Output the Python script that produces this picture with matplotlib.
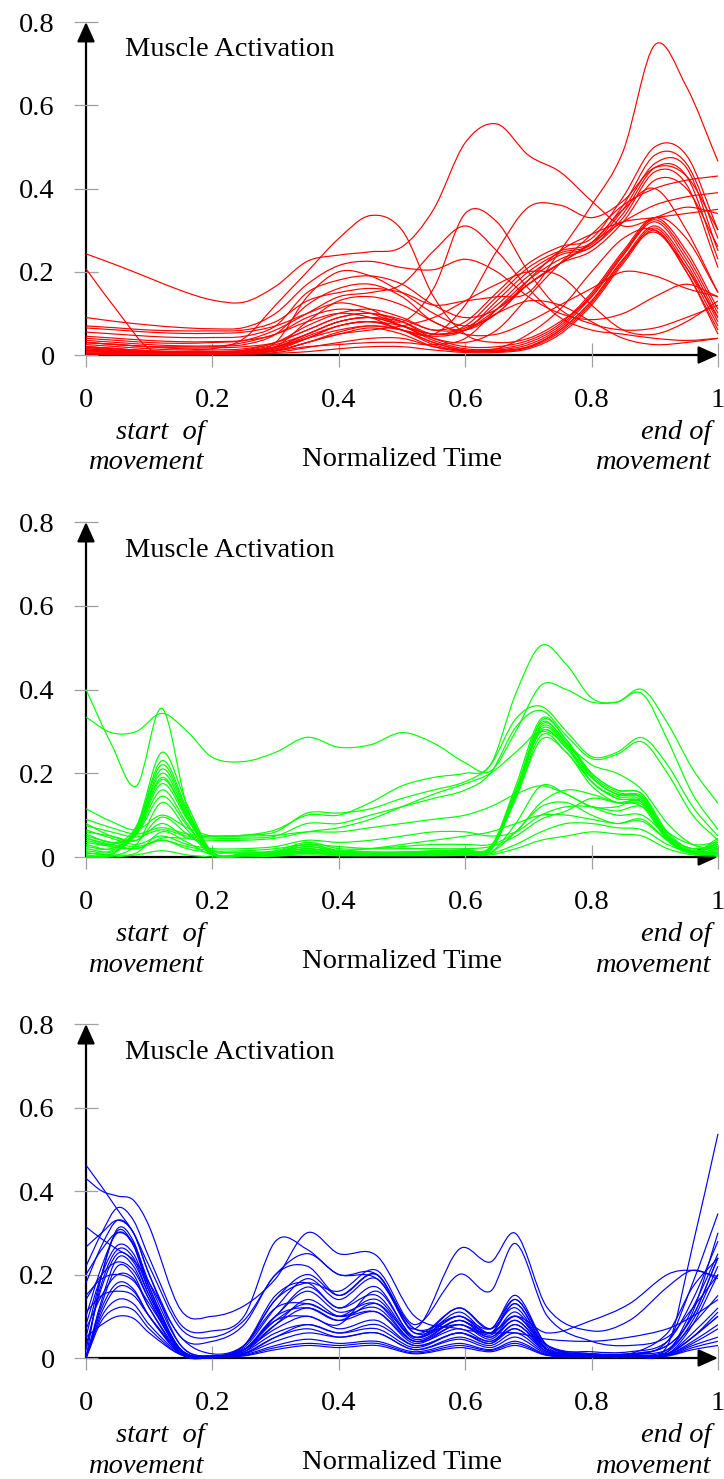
import numpy as np
import matplotlib
matplotlib.use('Agg')
import matplotlib.pyplot as plt
from matplotlib.path import Path
from matplotlib.patches import PathPatch

# =====================================
# DATA - activation curves
# =====================================
t_red = [0, .05, .1, .15, .2, .25, .3, .35, .4, .45, .5, .55, .6, .65, .7, .75, .8, .85, .9, .95, 1]

red_curves = [
    [.243, .215, .185, .155, .132, .127, .165, .225, .24, .248, .26, .35, .51, .555, .48, .44, .37, .31, .33, .355, .34],
    [.207, .105, .015, .005, .004, .005, .015, .045, .07, .08, .06, .025, .01, .015, .05, .11, .2, .28, .3, .21, .09],
    [.03, .025, .02, .015, .015, .04, .12, .2, .28, .335, .3, .14, .05, .03, .04, .08, .14, .24, .33, .28, .15],
    [.09, .08, .072, .066, .063, .066, .1, .17, .215, .225, .21, .205, .23, .2, .14, .1, .085, .1, .14, .17, .14],
    [.065, .06, .055, .052, .052, .055, .07, .1, .125, .11, .08, .16, .34, .32, .2, .11, .075, .06, .065, .09, .12],
    [.04, .035, .03, .028, .03, .035, .06, .1, .14, .15, .17, .25, .31, .25, .16, .09, .06, .05, .04, .035, .04],
    [.03, .025, .02, .02, .02, .03, .05, .08, .1, .09, .06, .05, .12, .25, .355, .36, .33, .37, .45, .43, .3],
    [.07, .065, .06, .058, .058, .06, .08, .13, .15, .16, .15, .12, .13, .14, .15, .25, .36, .49, .745, .645, .465],
    [.02, .015, .01, .008, .008, .01, .02, .05, .08, .09, .07, .04, .03, .06, .14, .22, .29, .36, .4, .42, .43],
    [.055, .05, .045, .042, .042, .045, .07, .15, .18, .19, .17, .12, .09, .11, .17, .22, .27, .32, .36, .38, .39],
    [.025, .02, .015, .012, .012, .015, .03, .07, .1, .11, .09, .06, .08, .15, .22, .26, .28, .38, .5, .48, .3],
    [.015, .01, .008, .006, .006, .01, .025, .05, .08, .09, .08, .05, .07, .14, .21, .25, .27, .36, .48, .46, .28],
    [.01, .008, .005, .004, .004, .008, .02, .04, .06, .07, .06, .045, .06, .13, .2, .245, .265, .35, .46, .45, .25],
    [.02, .015, .01, .008, .008, .012, .03, .06, .09, .1, .085, .06, .065, .12, .19, .24, .26, .34, .45, .43, .23],
    [.005, .004, .003, .003, .003, .005, .01, .02, .025, .03, .03, .025, .04, .11, .18, .23, .26, .33, .44, .41, .21],
    [.035, .03, .025, .022, .022, .025, .05, .12, .16, .17, .14, .08, .06, .1, .17, .22, .25, .32, .42, .4, .26],
    [.01, .006, .004, .003, .003, .004, .01, .03, .05, .065, .05, .02, .008, .01, .02, .06, .13, .23, .31, .22, .08],
    [.005, .003, .002, .002, .002, .003, .006, .018, .03, .04, .04, .02, .01, .008, .018, .055, .125, .225, .305, .21, .07],
    [.015, .01, .006, .005, .005, .006, .012, .04, .07, .08, .06, .03, .012, .012, .025, .065, .14, .24, .32, .23, .09],
    [.002, .001, .001, .001, .001, .002, .004, .008, .015, .02, .02, .012, .006, .006, .015, .05, .12, .22, .3, .2, .06],
    [.02, .015, .01, .008, .008, .01, .018, .05, .08, .09, .07, .035, .015, .015, .03, .07, .145, .245, .325, .24, .1],
    [.008, .005, .003, .003, .003, .004, .01, .03, .055, .07, .06, .03, .01, .01, .02, .06, .13, .23, .295, .2, .05],
    [.03, .025, .02, .017, .017, .02, .03, .06, .09, .1, .08, .04, .02, .02, .035, .075, .15, .25, .33, .25, .11],
    [.012, .008, .006, .005, .005, .008, .02, .08, .13, .14, .12, .08, .05, .05, .08, .12, .16, .2, .19, .16, .14],
    [.045, .04, .035, .032, .032, .035, .05, .09, .11, .1, .07, .05, .06, .1, .13, .12, .08, .04, .025, .03, .04],
    [.018, .012, .008, .006, .006, .01, .03, .14, .2, .19, .15, .1, .07, .1, .18, .25, .29, .32, .33, .34, .35],
    [.004, .003, .002, .002, .002, .004, .01, .03, .05, .06, .07, .09, .13, .17, .2, .19, .12, .06, .05, .08, .13],
    [.012, .008, .005, .004, .004, .006, .015, .04, .07, .08, .07, .05, .06, .11, .17, .22, .27, .35, .4, .3, .15],
]

t_green = [0, .04, .08, .12, .16, .2, .25, .3, .35, .4, .45, .5, .55, .6, .64, .68, .72, .76, .8, .84, .88, .92, .96, 1]

green_curves = [
    [.40, .27, .17, .355, .12, .012, .005, .005, .01, .005, .005, .005, .005, .005, .01, .06, .12, .13, .1, .08, .09, .04, .01, .005],
    [.334, .297, .3, .343, .3, .238, .228, .25, .286, .262, .268, .297, .272, .225, .205, .3, .41, .4, .37, .37, .39, .28, .15, .065],
    [.115, .085, .065, .1, .07, .05, .052, .065, .1, .1, .13, .17, .19, .2, .22, .39, .505, .46, .38, .37, .4, .32, .21, .128],
    [.09, .07, .055, .07, .055, .05, .052, .06, .105, .105, .115, .14, .16, .18, .22, .33, .36, .3, .24, .25, .285, .22, .12, .05],
    [.075, .06, .048, .065, .05, .045, .045, .05, .08, .08, .1, .12, .14, .16, .2, .31, .35, .29, .235, .245, .275, .2, .1, .04],
    [.06, .05, .04, .08, .045, .04, .04, .045, .06, .07, .09, .12, .15, .175, .2, .25, .3, .27, .22, .2, .16, .08, .03, .02],
    [.02, .015, .07, .22, .11, .01, .005, .008, .02, .01, .008, .008, .01, .012, .02, .17, .33, .28, .19, .15, .14, .05, .012, .02],
    [0, .005, .065, .2, .1, .008, .004, .006, .015, .008, .006, .006, .008, .01, .018, .16, .32, .27, .18, .145, .135, .045, .01, .015],
    [.03, .02, .065, .19, .095, .008, .006, .01, .025, .012, .01, .01, .012, .014, .02, .15, .31, .27, .2, .16, .15, .06, .015, .025],
    [.045, .03, .06, .175, .09, .008, .008, .012, .03, .015, .012, .012, .014, .016, .022, .15, .3, .26, .19, .15, .145, .055, .012, .03],
    [.01, .008, .055, .16, .08, .006, .003, .005, .012, .006, .005, .005, .006, .008, .015, .14, .29, .25, .18, .14, .13, .04, .008, .01],
    [.055, .035, .055, .145, .075, .007, .006, .01, .02, .01, .008, .008, .01, .012, .02, .14, .28, .25, .17, .13, .125, .045, .01, .035],
    [.005, .006, .07, .23, .115, .01, .004, .006, .014, .008, .006, .006, .008, .01, .016, .15, .325, .28, .2, .16, .15, .05, .01, .005],
    [.025, .02, .065, .21, .105, .009, .005, .008, .02, .01, .008, .008, .01, .012, .02, .15, .315, .275, .195, .155, .14, .05, .012, .018],
    [.015, .012, .06, .185, .095, .008, .005, .007, .016, .009, .007, .007, .009, .011, .018, .145, .305, .265, .19, .15, .14, .05, .01, .012],
    [.04, .03, .075, .25, .125, .012, .008, .012, .03, .015, .012, .012, .015, .018, .025, .16, .3, .26, .18, .14, .13, .04, .01, .04],
    [.065, .045, .03, .05, .03, .02, .02, .025, .04, .035, .04, .05, .06, .06, .05, .06, .1, .12, .12, .11, .12, .06, .03, .035],
    [.05, .035, .025, .04, .025, .015, .015, .02, .03, .025, .02, .02, .02, .02, .025, .05, .09, .11, .14, .13, .13, .05, .02, .03],
    [.08, .05, .04, .095, .055, .015, .012, .015, .035, .02, .02, .025, .03, .03, .03, .06, .13, .16, .15, .13, .12, .04, .01, .045],
    [.035, .025, .02, .045, .045, .05, .05, .052, .06, .06, .07, .08, .09, .1, .12, .15, .17, .15, .12, .1, .1, .05, .02, .03],
    [.01, .005, .01, .06, .035, .005, .005, .005, .01, .005, .005, .005, .005, .005, .008, .03, .06, .08, .08, .07, .065, .03, .01, .01],
    [.002, .002, .03, .13, .065, .005, .003, .004, .008, .005, .004, .004, .005, .006, .01, .08, .17, .15, .12, .12, .135, .05, .01, .008],
    [0, 0, .005, .015, .005, 0, 0, .002, .005, .003, .003, .003, .003, .004, .005, .02, .04, .05, .06, .055, .05, .02, .005, .002],
    [.045, .03, .02, .04, .02, .01, .01, .012, .025, .015, .02, .03, .04, .05, .06, .08, .1, .1, .09, .08, .085, .04, .015, .025],
]

t_blue = [0, .025, .05, .075, .1, .15, .2, .25, .3, .35, .4, .46, .52, .59, .64, .68, .73, .8, .86, .92, .96, 1]

blue_curves = [
    [.43, .4, .388, .378, .315, .115, .1, .125, .19, .3, .25, .245, .1, .07, .06, .06, .045, .04, .05, .07, .1, .14],
    [.462, .41, .355, .3, .22, .07, .05, .09, .2, .25, .2, .19, .07, .08, .06, .1, .03, .01, .01, .03, .1, .24],
    [.18, .27, .33, .3, .2, .05, .04, .08, .2, .22, .15, .2, .07, .26, .23, .298, .12, .065, .09, .17, .21, .19],
    [.314, .285, .26, .235, .18, .05, .01, .03, .12, .13, .1, .12, .04, .07, .04, .08, .02, .01, .01, .02, .08, .15],
    [.266, .3, .33, .3, .2, .03, .005, .02, .09, .1, .08, .16, .05, .1, .06, .14, .03, .01, .01, .03, .1, .24],
    [.05, .2, .31, .28, .17, .02, .003, .02, .1, .16, .11, .13, .04, .09, .05, .1, .02, .005, .005, .01, .06, .12],
    [0, .2, .305, .27, .16, .015, .002, .015, .08, .14, .1, .11, .035, .08, .045, .09, .02, .005, .005, .01, .05, .1],
    [.1, .22, .3, .27, .17, .02, .004, .025, .12, .19, .14, .19, .06, .12, .07, .15, .03, .01, .008, .015, .09, .22],
    [.2, .26, .3, .275, .18, .03, .005, .03, .14, .2, .15, .2, .06, .1, .06, .13, .025, .008, .008, .02, .11, .3],
    [0, .13, .22, .2, .12, .01, .001, .01, .05, .08, .06, .07, .025, .06, .035, .07, .015, .003, .003, .008, .04, .08],
    [.15, .19, .2, .185, .13, .02, .003, .02, .07, .1, .07, .09, .03, .06, .035, .08, .015, .004, .004, .01, .05, .11],
    [0, .12, .18, .165, .1, .01, .002, .01, .04, .06, .05, .06, .02, .05, .03, .06, .012, .003, .003, .01, .05, .1],
    [.11, .15, .16, .15, .1, .015, .002, .012, .05, .07, .05, .06, .02, .045, .025, .05, .01, .003, .003, .008, .035, .07],
    [0, .1, .14, .13, .08, .01, .001, .008, .03, .045, .035, .04, .015, .035, .02, .04, .008, .002, .002, .006, .03, .05],
    [.05, .08, .1, .095, .06, .008, .001, .005, .02, .03, .025, .03, .01, .025, .015, .03, .006, .002, .002, .005, .02, .03],
    [0, .14, .24, .22, .14, .015, .003, .02, .1, .17, .12, .15, .05, .12, .07, .12, .02, .006, .006, .01, .08, .2],
    [.02, .18, .26, .24, .15, .02, .004, .03, .15, .18, .12, .17, .05, .11, .06, .13, .02, .006, .006, .015, .12, .25],
    [0, .09, .12, .115, .07, .008, .001, .006, .025, .035, .03, .035, .012, .03, .018, .035, .007, .002, .002, .005, .025, .04],
    [.22, .3, .36, .33, .24, .08, .065, .1, .28, .26, .2, .2, .07, .1, .07, .14, .03, .015, .015, .04, .14, .28],
    [.07, .15, .2, .19, .12, .015, .003, .015, .06, .08, .06, .08, .03, .06, .04, .07, .015, .005, .005, .03, .27, .537],
    [.03, .17, .25, .23, .15, .02, .004, .02, .08, .12, .09, .11, .04, .08, .05, .09, .02, .006, .008, .04, .18, .346],
    [0, .11, .17, .16, .1, .01, .002, .02, .1, .12, .09, .13, .05, .09, .06, .1, .06, .09, .13, .2, .21, .195],
    [.14, .2, .23, .21, .14, .015, .003, .02, .09, .13, .1, .14, .045, .09, .055, .11, .02, .006, .01, .06, .17, .24],
    [.08, .2, .27, .25, .16, .02, .004, .03, .14, .18, .16, .21, .08, .2, .16, .274, .1, .04, .03, .05, .12, .2],
]

x_ticks = [0, 0.2, 0.4, 0.6, 0.8, 1]
x_tick_labels = ['0', '0.2', '0.4', '0.6', '0.8', '1']
y_ticks = [0, 0.2, 0.4, 0.6, 0.8]
y_tick_labels = ['0', '0.2', '0.4', '0.6', '0.8']


# smooth curve through the points (like pgfplots "smooth"), drawn as a bezier path
def smooth_path(x, y):
    x = np.asarray(x, dtype=float)
    y = np.asarray(y, dtype=float)
    m = np.empty(len(x))
    m[1:-1] = (y[2:] - y[:-2]) / (x[2:] - x[:-2])
    m[0] = (y[1] - y[0]) / (x[1] - x[0])
    m[-1] = (y[-1] - y[-2]) / (x[-1] - x[-2])
    verts = [(x[0], y[0])]
    codes = [Path.MOVETO]
    for i in range(len(x) - 1):
        h = x[i + 1] - x[i]
        verts += [(x[i] + h / 3, y[i] + m[i] * h / 3),
                  (x[i + 1] - h / 3, y[i + 1] - m[i + 1] * h / 3),
                  (x[i + 1], y[i + 1])]
        codes += [Path.CURVE4] * 3
    return Path(verts, codes)


# =====================================
# FIGURE
# =====================================
plt.rcParams['font.family'] = ['Liberation Serif', 'DejaVu Serif']
FS = 20.5

fig = plt.figure(figsize=(7.24, 14.79), dpi=100)

panels = [
    (0.75997, 0.22515, t_red, red_curves, '#ff0000'),
    (0.42055, 0.22650, t_green, green_curves, '#00ff00'),
    (0.08181, 0.22580, t_blue, blue_curves, '#0000ff'),
]

for bottom, height, t, curves, color in panels:
    ax = fig.add_axes([0.1188, bottom, 0.8729, height])
    ax.set_xlim(0, 1)
    ax.set_ylim(0, 0.8)
    for s in ax.spines.values():
        s.set_visible(False)

    ax.set_xticks(x_ticks)
    ax.set_xticklabels(x_tick_labels)
    ax.set_yticks(y_ticks)
    ax.set_yticklabels(y_tick_labels)
    ax.tick_params(axis='both', direction='inout', length=17, width=0.9,
                   color='#a0a0a0', labelsize=FS)
    ax.tick_params(axis='x', pad=15.5)
    ax.tick_params(axis='y', pad=14)

    # axis arrows (below the curves)
    arrow = dict(arrowstyle='-|>,head_length=0.6,head_width=0.27', color='black',
                 lw=1.6, shrinkA=0, shrinkB=0, mutation_scale=20)
    ax.annotate('', xy=(1, 0), xytext=(0, 0), arrowprops=arrow,
                zorder=1, annotation_clip=False)
    ax.annotate('', xy=(0, 0.8), xytext=(0, 0), arrowprops=arrow,
                zorder=1, annotation_clip=False)

    for vals in curves:
        ax.add_patch(PathPatch(smooth_path(t, vals), facecolor='none',
                               edgecolor=color, lw=0.85, zorder=2, clip_on=False))

    ax.text(0.062, 0.733, 'Muscle Activation', fontsize=FS, ha='left', va='center')
    ax.text(0.5, -0.25, 'Normalized Time', fontsize=FS, ha='center', va='center',
            clip_on=False)
    ax.text(0.188, -0.222, 'start  of\nmovement', fontsize=FS, style='italic',
            ha='right', va='center', multialignment='right', linespacing=1.3)
    ax.text(0.989, -0.222, 'end of\nmovement', fontsize=FS, style='italic',
            ha='right', va='center', multialignment='right', linespacing=1.3)

plt.savefig('out.png', dpi=100)
plt.close()
